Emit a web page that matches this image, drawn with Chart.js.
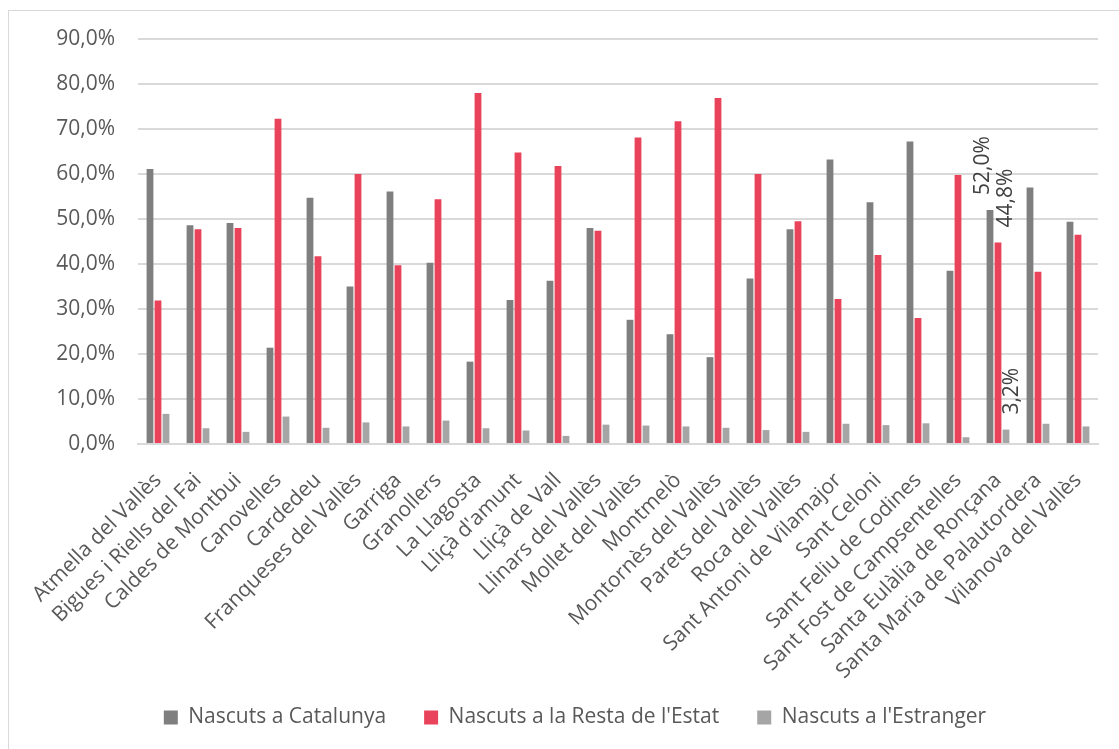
<!DOCTYPE html>
<html>
<head>
<meta charset="utf-8">
<script src="https://cdn.jsdelivr.net/npm/chart.js@4/dist/chart.umd.min.js"></script>
<style>
    html, body { margin: 0; padding: 0; background: #fff; overflow: hidden; }
    .frame { position: absolute; left: 8px; top: 10px; width: 1300px; height: 900px; border: 1px solid #d9d9d9; }
    .wrap { position: absolute; left: 0; top: 0; width: 1119px; height: 749px; }
</style>
</head>
<body>
<div class="frame"></div>
<div class="wrap"><canvas id="chartNascuts" width="1119" height="749"></canvas></div>
<script>
// Municipis
const municipis = [
    'Atmella del Vallès', 'Bigues i Riells del Fai', 'Caldes de Montbui', 'Canovelles', 'Cardedeu',
    'Franqueses del Vallès', 'Garriga', 'Granollers', 'La Llagosta', "Lliçà d'amunt", 'Lliçà de Vall',
    'Llinars del Vallès', 'Mollet del Vallès', 'Montmelò', 'Montornès del Vallès', 'Parets del Vallès',
    'Roca del Vallès', 'Sant Antoni de Vilamajor', 'Sant Celoni', 'Sant Feliu de Codines',
    'Sant Fost de Campsentelles', 'Santa Eulàlia de Ronçana', 'Santa Maria de Palautordera', 'Vilanova del Vallès'
];

// Percentatges per origen
const nascutsCatalunya = [61.1, 48.6, 49.1, 21.4, 54.7, 35.0, 56.1, 40.3, 18.3, 32.0, 36.3, 48.0, 27.6, 24.4, 19.3, 36.8, 47.7, 63.2, 53.7, 67.2, 38.5, 52.0, 57.0, 49.4];
const nascutsResta = [31.9, 47.7, 48.0, 72.3, 41.7, 60.0, 39.7, 54.4, 78.0, 64.8, 61.8, 47.4, 68.1, 71.7, 76.9, 60.0, 49.5, 32.2, 42.0, 28.0, 59.8, 44.8, 38.3, 46.5];
const nascutsEstranger = [6.7, 3.5, 2.7, 6.1, 3.6, 4.8, 3.9, 5.2, 3.5, 3.0, 1.8, 4.3, 4.1, 3.9, 3.6, 3.1, 2.7, 4.5, 4.2, 4.6, 1.5, 3.2, 4.5, 3.9];

const yTicks = [0, 10, 20, 30, 40, 50, 60, 70, 80, 90];

// Només Santa Eulàlia porta etiquetes
const etiquetaIndex = 21;
const etiquetaDx = [-7, 8, 6];

const FONT = "'Open Sans', sans-serif";
const fmt = v => v.toFixed(1).replace('.', ',') + '%';

const etiquetesPlugin = {
    id: 'etiquetes',
    afterDatasetsDraw(chart) {
        const ctx = chart.ctx;
        ctx.save();
        ctx.font = `21px ${FONT}`;
        ctx.fillStyle = '#404040';
        ctx.textAlign = 'left';
        ctx.textBaseline = 'middle';
        chart.data.datasets.forEach((ds, i) => {
            const bar = chart.getDatasetMeta(i).data[etiquetaIndex];
            ctx.save();
            ctx.translate(bar.x + etiquetaDx[i], bar.y - 15);
            ctx.rotate(-Math.PI / 2);
            ctx.fillText(fmt(ds.data[etiquetaIndex]), 0, 0);
            ctx.restore();
        });
        ctx.restore();
    }
};

new Chart(document.getElementById('chartNascuts'), {
    type: 'bar',
    data: {
        labels: municipis,
        datasets: [
            { label: 'Nascuts a Catalunya', data: nascutsCatalunya, backgroundColor: '#7f7f7f' },
            { label: "Nascuts a la Resta de l'Estat", data: nascutsResta, backgroundColor: '#e8435a' },
            { label: "Nascuts a l'Estranger", data: nascutsEstranger, backgroundColor: '#a5a5a5' }
        ]
    },
    options: {
        responsive: false,
        animation: false,
        datasets: { bar: { categoryPercentage: 0.6, barPercentage: 0.85 } },
        layout: { padding: { top: 39, right: 21, bottom: 11, left: 52 } },
        plugins: {
            legend: {
                position: 'bottom',
                labels: { boxWidth: 14, boxHeight: 14, padding: 38, color: '#595959', font: { family: FONT, size: 21 } }
            },
            tooltip: { enabled: false }
        },
        scales: {
            y: {
                min: 0, max: 90,
                afterBuildTicks: s => { s.ticks = yTicks.map(v => ({ value: v })); },
                afterFit: s => { s.width = 86; },
                grid: { color: '#d9d9d9', lineWidth: 2, drawTicks: false },
                border: { display: false },
                ticks: { padding: 23, color: '#595959', font: { family: FONT, size: 21 }, callback: v => fmt(v) }
            },
            x: {
                afterFit: s => {
                    s.height = 225;
                    // les etiquetes llargues no s'han de retallar
                    s._computeLabelArea = () => undefined;
                },
                grid: { display: false },
                border: { color: '#d9d9d9', width: 2 },
                ticks: { autoSkip: false, minRotation: 45, maxRotation: 45, padding: 16, labelOffset: 0, color: '#595959', font: { family: FONT, size: 21 } }
            }
        }
    },
    plugins: [etiquetesPlugin]
});
</script>
</body>
</html>
